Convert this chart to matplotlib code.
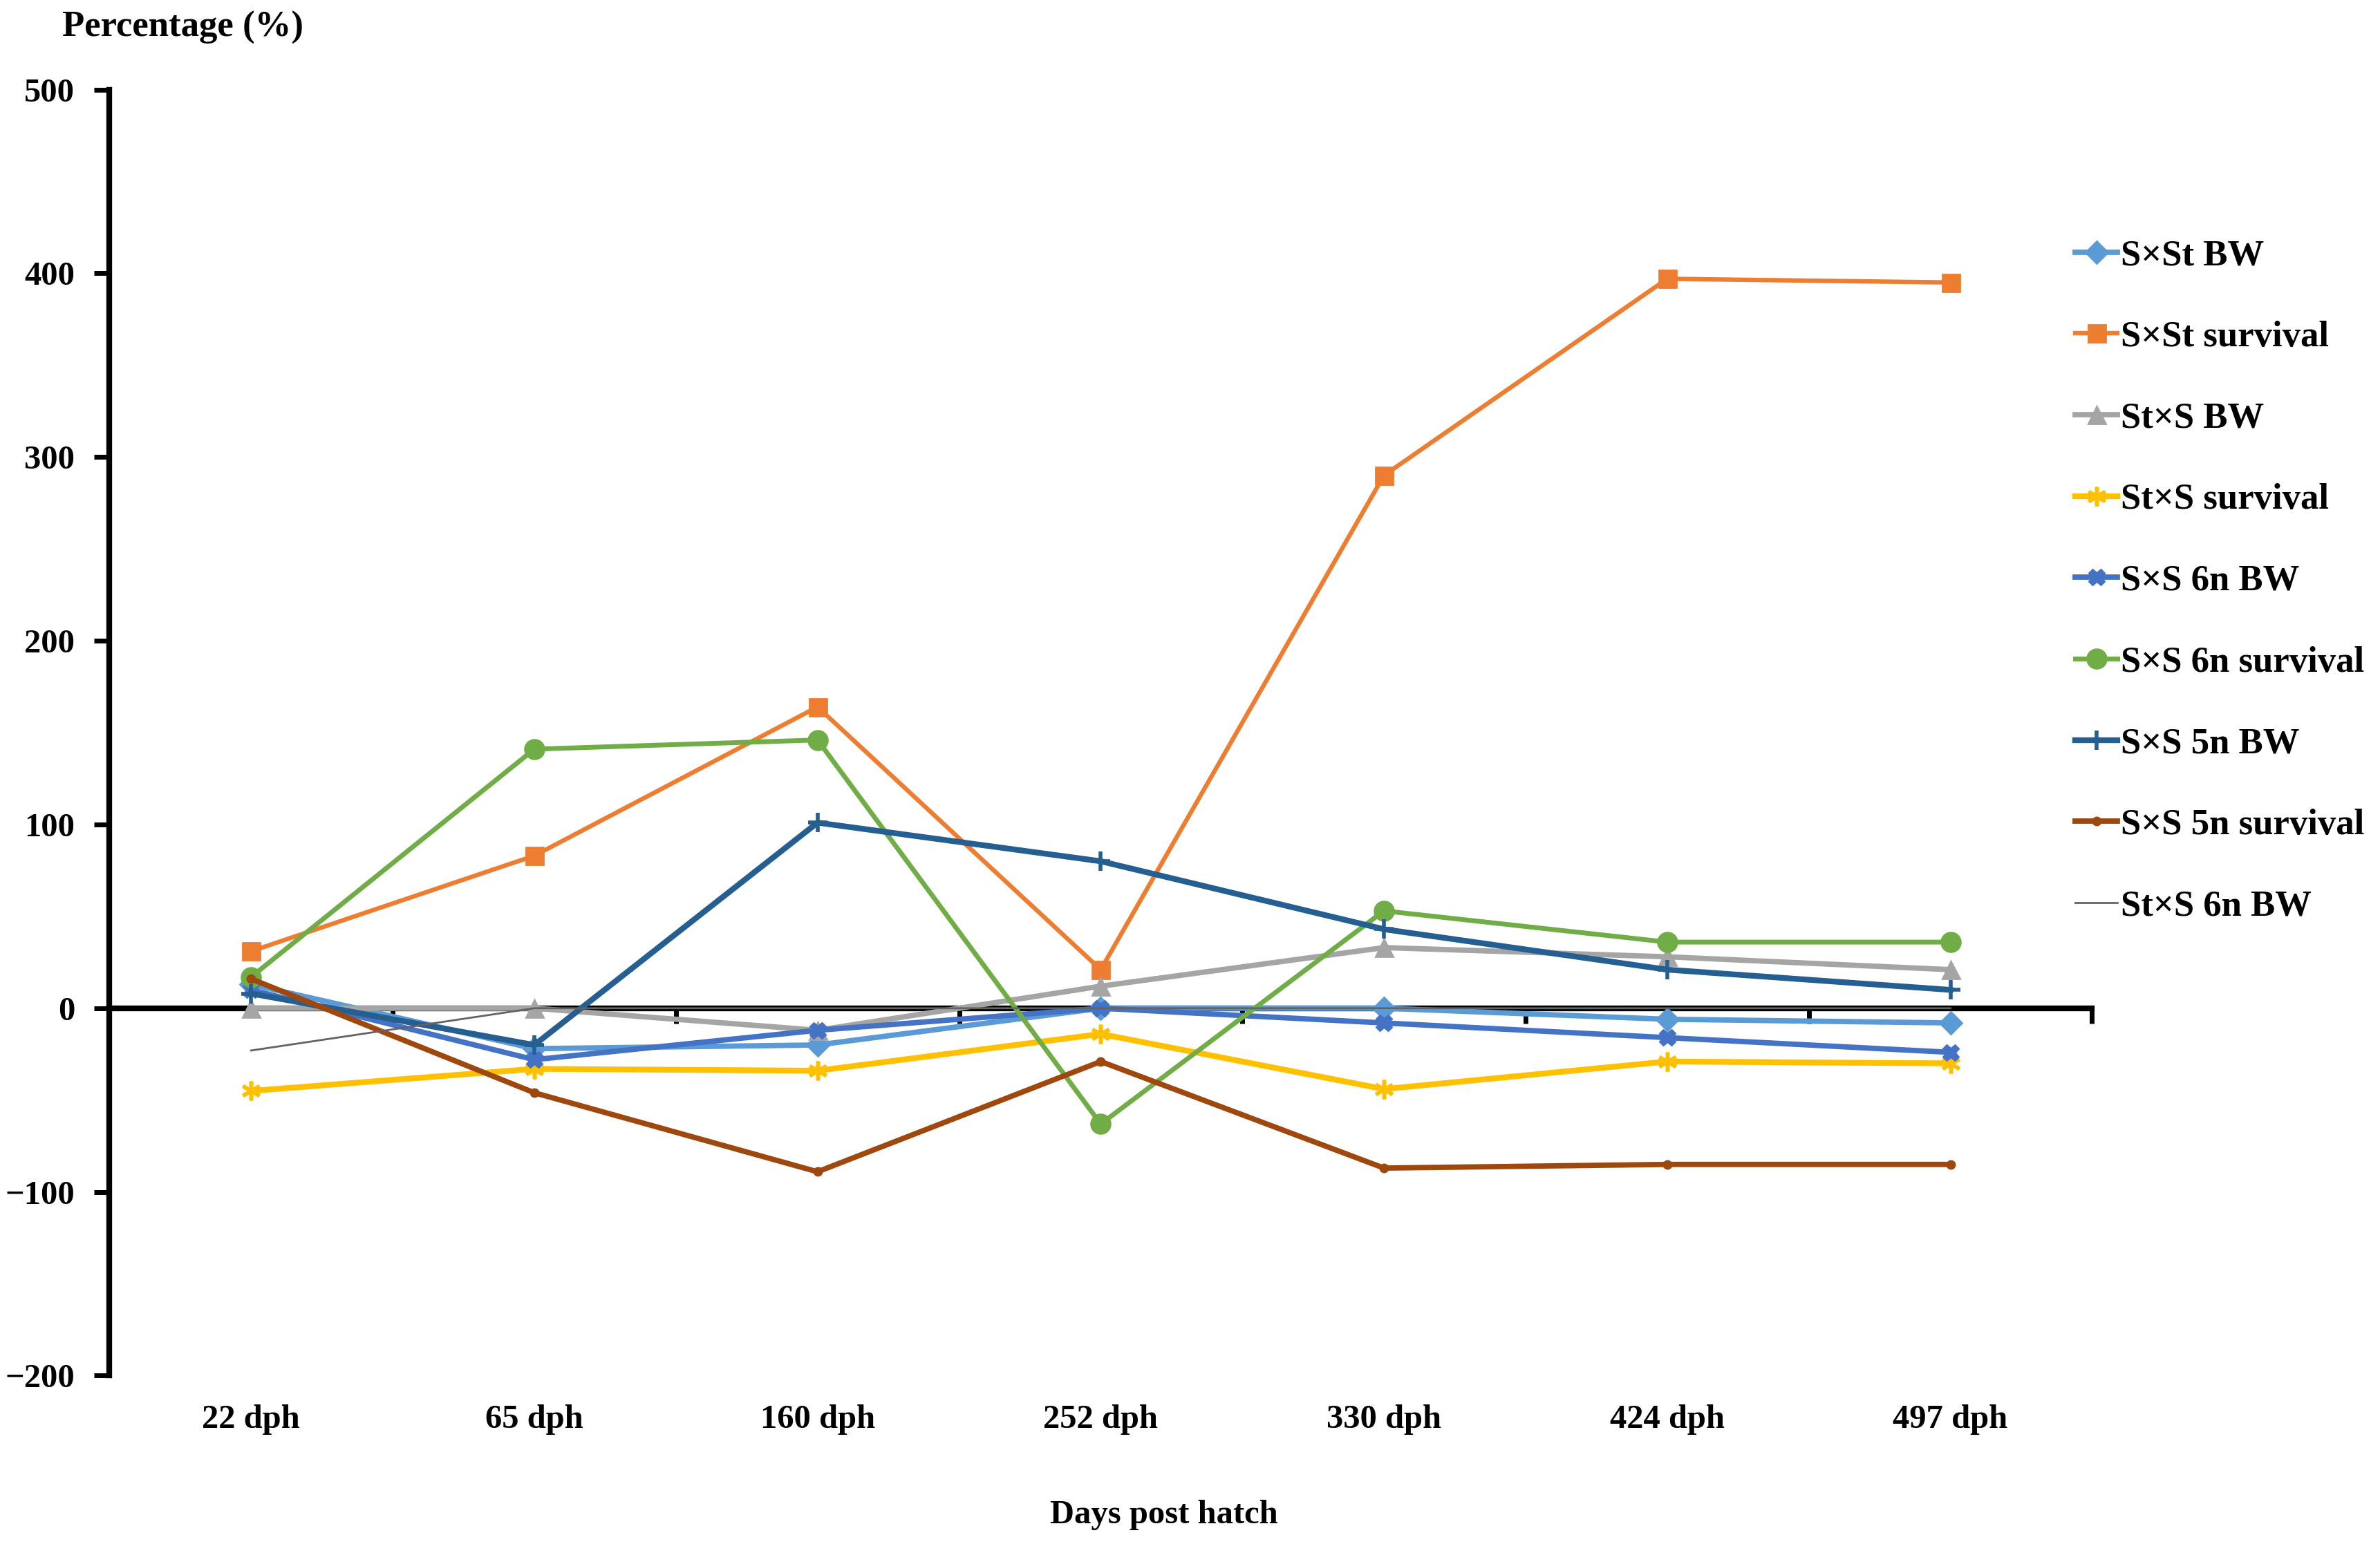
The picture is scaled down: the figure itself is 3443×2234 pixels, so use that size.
import numpy as np
import matplotlib
matplotlib.use('Agg')
import matplotlib.pyplot as plt

plt.rcParams['font.family'] = ['Liberation Serif', 'DejaVu Serif']
plt.rcParams['font.weight'] = 'bold'

# Data
days = ['22 dph', '65 dph', '160 dph', '252 dph', '330 dph', '424 dph', '497 dph']

sxst_bw = [13, -22, -20, 0, 0, -6, -8]
sxst_survival = [31, 83, 164, 21, 290, 397, 395]
stxs_bw = [0, 0, -12, 12, 33, 28, 21]
stxs_survival = [-45, -33, -34, -14, -44, -29, -30]
sxs6n_bw = [10, -28, -12, 0, -8, -16, -24]
sxs6n_survival = [17, 141, 146, -63, 53, 36, 36]
sxs5n_bw = [8, -20, 101, 80, 43, 21, 10]
sxs5n_survival = [16, -46, -89, -29, -87, -85, -85]
stxs6n_bw = [-23, 0, 0, 0, 0, 0, 0]

series = [
    ('S×St BW', sxst_bw, '#5B9BD5', 'D', 8, 2.8),
    ('S×St survival', sxst_survival, '#ED7D31', 's', 9, 2.3),
    ('St×S BW', stxs_bw, '#A5A5A5', '^', 9, 2.8),
    ('St×S survival', stxs_survival, '#FFC000', (6, 2, 0), 10, 3.0),
    ('S×S 6n BW', sxs6n_bw, '#4472C4', 'X', 8, 2.8),
    ('S×S 6n survival', sxs6n_survival, '#70AD47', 'o', 10, 2.5),
    ('S×S 5n BW', sxs5n_bw, '#255E91', '+', 10, 3.0),
    ('S×S 5n survival', sxs5n_survival, '#9E480E', 'o', 4, 2.8),
    ('St×S 6n BW', stxs6n_bw, '#636363', None, 0, 1.0),
]

fig = plt.figure(figsize=(17.215, 11.17), dpi=200)
ax = fig.add_axes([0.046, 0.109, 0.833, 0.833])

x = np.arange(len(days))
for label, vals, color, marker, ms, lw in series:
    if marker is None:
        ax.plot(x, vals, color=color, lw=lw, label=label, zorder=3)
    else:
        ax.plot(x, vals, color=color, lw=lw, marker=marker, markersize=ms,
                markeredgewidth=2 if marker in ('+',) or isinstance(marker, tuple) else 1,
                label=label, zorder=3)

ax.set_xlim(-0.5, len(days) - 0.5)
ax.set_ylim(-200, 500)
ax.set_yticks(np.arange(-200, 501, 100))
ax.tick_params(axis='y', direction='out', length=8, width=2.5, labelsize=17.5, pad=10)

# x axis sits on zero, ticks between categories
ax.spines['top'].set_visible(False)
ax.spines['right'].set_visible(False)
ax.spines['left'].set_linewidth(3)
ax.spines['bottom'].set_position(('data', 0))
ax.spines['bottom'].set_linewidth(3)
ax.spines['bottom'].set_zorder(2)
ax.set_xticks(np.arange(len(days) + 1) - 0.5)
ax.set_xticklabels([])
ax.tick_params(axis='x', direction='out', length=8, width=2.5)

for lab in ax.get_yticklabels():
    lab.set_fontweight('bold')

# category labels below the plot
for i, d in enumerate(days):
    ax.text(i, -0.034, d, transform=ax.get_xaxis_transform(), ha='center', va='center',
            fontsize=17.5, fontweight='bold')

fig.text(0.489, 0.019, 'Days post hatch', ha='center', va='center', fontsize=17.5, fontweight='bold')
fig.text(0.026, 0.982, 'Percentage (%)', ha='left', va='center', fontsize=19, fontweight='bold')

ax.legend(loc='upper left', bbox_to_anchor=(0.872, 0.845), bbox_transform=fig.transFigure,
          frameon=False, handlelength=1.15, handletextpad=0.1,
          labelspacing=1.32, borderpad=0, borderaxespad=0,
          prop={'weight': 'bold', 'size': 19})

fig.savefig('out.png', dpi=200)
